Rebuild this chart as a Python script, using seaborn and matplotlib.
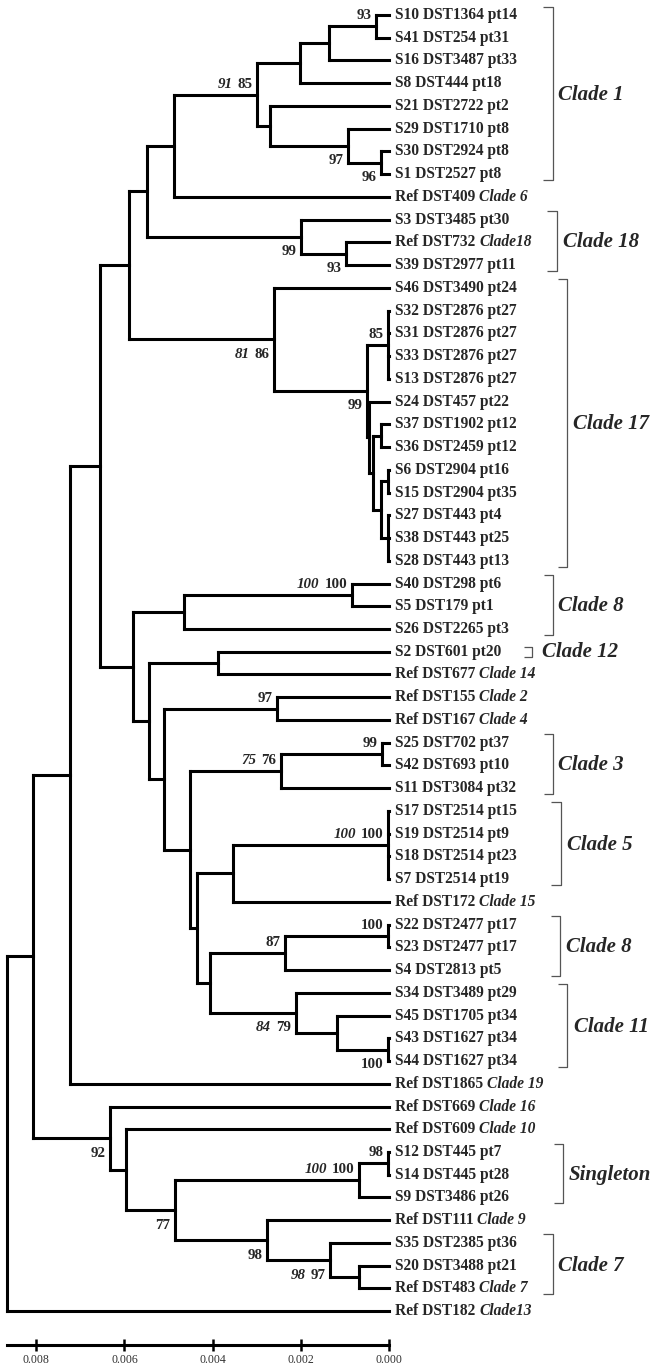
import matplotlib
matplotlib.use("Agg")
import matplotlib.pyplot as plt
import numpy as np
import pandas as pd
import seaborn as sns

# ---------------- data ----------------
LEAF_NAMES = [
    "S10 DST1364 pt14", "S41 DST254 pt31", "S16 DST3487 pt33", "S8 DST444 pt18",
    "S21 DST2722 pt2", "S29 DST1710 pt8", "S30 DST2924 pt8", "S1 DST2527 pt8",
    "Ref DST409", "S3 DST3485 pt30", "Ref DST732", "S39 DST2977 pt11",
    "S46 DST3490 pt24", "S32 DST2876 pt27", "S31 DST2876 pt27", "S33 DST2876 pt27",
    "S13 DST2876 pt27", "S24 DST457 pt22", "S37 DST1902 pt12", "S36 DST2459 pt12",
    "S6 DST2904 pt16", "S15 DST2904 pt35", "S27 DST443 pt4", "S38 DST443 pt25",
    "S28 DST443 pt13", "S40 DST298 pt6", "S5 DST179 pt1", "S26 DST2265 pt3",
    "S2 DST601 pt20", "Ref DST677", "Ref DST155", "Ref DST167",
    "S25 DST702 pt37", "S42 DST693 pt10", "S11 DST3084 pt32", "S17 DST2514 pt15",
    "S19 DST2514 pt9", "S18 DST2514 pt23", "S7 DST2514 pt19", "Ref DST172",
    "S22 DST2477 pt17", "S23 DST2477 pt17", "S4 DST2813 pt5", "S34 DST3489 pt29",
    "S45 DST1705 pt34", "S43 DST1627 pt34", "S44 DST1627 pt34", "Ref DST1865",
    "Ref DST669", "Ref DST609", "S12 DST445 pt7", "S14 DST445 pt28",
    "S9 DST3486 pt26", "Ref DST111", "S35 DST2385 pt36", "S20 DST3488 pt21",
    "Ref DST483", "Ref DST182",
]
LEAF_ITALIC = [
    "", "", "", "", "", "", "", "",
    "Clade 6", "", "Clade18", "",
    "", "", "", "", "", "", "", "", "", "", "", "", "",
    "", "", "",
    "", "Clade 14", "Clade 2", "Clade 4",
    "", "", "", "", "", "", "", "Clade 15",
    "", "", "", "", "", "", "", "Clade 19",
    "Clade 16", "Clade 10", "", "", "", "Clade 9", "", "",
    "Clade 7", "Clade13",
]

# topology (leaf = index into LEAF_NAMES, internal nodes named)
TREE = ("(((((((((((0,1)n376,2)n329,3)n300,(4,(5,(6,7)n381)n348)n270)c1,8)n174,"
        "(9,(10,11)n345)c18)n146,(12,((13,14,15,16)p17,(17,((18,19)d17,"
        "((20,21)f17,(22,23,24)g17)e17)c17b)b17)a17)c17)n129,"
        "(((25,26)n351,27)n184,((28,29)n218,((30,31)n277,(((32,33)n381b,34)c3,"
        "(((35,36,37,38)c5,39)n232,(((40,41)n22,42)n285,(43,(44,(45,46)n43)n337)n295)n210)n197)n190)n164)n148)n133)n100,"
        "47)n70,(48,(49,(((50,51)n12,52)nsing,(53,(54,(55,56)n20)n330)n267)n175)n126)n110)n33,57)root")

# node heights (distance from the tips)
NODE_HEIGHT = {
    "root": 0.008652, "n33": 0.008070, "n70": 0.007232, "n100": 0.006553,
    "n129": 0.005896, "n146": 0.005495, "n174": 0.004877, "c1": 0.002997,
    "n300": 0.002023, "n329": 0.001366, "n376": 0.000301, "n270": 0.002702,
    "n348": 0.000935, "n381": 0.000188, "c18": 0.002000, "n345": 0.000988,
    "c17": 0.002612, "a17": 0.000505, "p17": 0.00002, "b17": 0.000453,
    "c17b": 0.000362, "d17": 0.000195, "e17": 0.000195, "f17": 0.00002,
    "g17": 0.00002, "n133": 0.005805, "n184": 0.004650, "n351": 0.000852,
    "n148": 0.005450, "n218": 0.003880, "n164": 0.005103, "n277": 0.002537,
    "n190": 0.004514, "c3": 0.002460, "n381b": 0.000172, "n197": 0.004356,
    "n232": 0.003547, "c5": 0.00002, "n210": 0.004061, "n285": 0.002362,
    "n22": 0.00002, "n295": 0.002120, "n337": 0.001178, "n43": 0.00002,
    "n110": 0.006326, "n126": 0.005964, "n175": 0.004854, "nsing": 0.000680,
    "n12": 0.00002, "n267": 0.002770, "n330": 0.001343, "n20": 0.000680,
}

# bootstrap support: (italic value, plain value)
SUPPORT = {
    "n376": ("", "93"), "c1": ("91", "85"), "n348": ("", "97"), "n381": ("", "96"),
    "c18": ("", "99"), "n345": ("", "93"), "c17": ("81", "86"), "p17": ("", "85"),
    "a17": ("", "99"), "n351": ("100", "100"), "n277": ("", "97"), "n381b": ("", "99"),
    "c3": ("75", "76"), "c5": ("100", "100"), "n22": ("", "100"), "n285": ("", "87"),
    "n295": ("84", "79"), "n43": ("", "100"), "n110": ("", "92"), "n12": ("", "98"),
    "nsing": ("100", "100"), "n175": ("", "77"), "n267": ("", "98"), "n330": ("98", "97"),
}
SUPPORT_ABOVE = {"n376", "c1", "p17", "n351", "n277", "n381b", "c3", "c5",
                 "n22", "n285", "n12", "nsing"}

# clade groups: (label, first leaf, last leaf)
CLADE_LABELS = ["Clade 1", "Clade 18", "Clade 17", "Clade 8", "Clade 12", "Clade 3",
                "Clade 5", "Clade 8", "Clade 11", "Singleton", "Clade 7"]
CLADE_FIRST = [0, 9, 12, 25, 28, 32, 35, 40, 43, 50, 54]
CLADE_LAST = [7, 11, 24, 27, 28, 34, 38, 42, 46, 52, 56]

SCALE_TICKS = [0.008, 0.006, 0.004, 0.002, 0.000]
SCALE_TICK_LABELS = ["0.008", "0.006", "0.004", "0.002", "0.000"]

# ---------------- layout (pixels) ----------------
W, H = 658, 1369
PXX = 44150.0      # px per substitution
X0 = 389.3         # px of tips
Y0, DY = 15.0, 22.74
BRACKET_X = [552.7, 556.7, 567.3, 553.3, 532.0, 553.3, 560.7, 560.0, 567.3, 563.3, 552.7]
LABEL_X = [558.0, 562.7, 573.3, 558.3, 541.7, 558.3, 566.7, 566.0, 574.0, 568.3, 558.3]


def px2d(px):
    return (X0 - px) / PXX


# ---------------- tree parsing ----------------
def parse(s):
    pos = 0

    def node():
        nonlocal pos
        kids = []
        if s[pos] == '(':
            pos += 1
            kids.append(node())
            while s[pos] == ',':
                pos += 1
                kids.append(node())
            assert s[pos] == ')'
            pos += 1
        start = pos
        while pos < len(s) and s[pos] not in ',)':
            pos += 1
        return {"name": s[start:pos], "kids": kids}

    return node()


tree = parse(TREE)
nodes = {}


def layout(n):
    if not n["kids"]:
        n["x"] = 0.0
        n["y"] = float(int(n["name"]))
    else:
        for k in n["kids"]:
            layout(k)
        n["x"] = NODE_HEIGHT[n["name"]]
        n["y"] = (n["kids"][0]["y"] + n["kids"][-1]["y"]) / 2.0
    nodes[n["name"]] = n


layout(tree)

rows = []
seg = [0]


def segs(n):
    if not n["kids"]:
        return
    ys = [k["y"] for k in n["kids"]]
    rows.append((seg[0], n["x"], min(ys)))
    rows.append((seg[0], n["x"], max(ys)))
    seg[0] += 1
    for k in n["kids"]:
        rows.append((seg[0], n["x"], k["y"]))
        rows.append((seg[0], k["x"], k["y"]))
        seg[0] += 1
        segs(k)


segs(tree)
df = pd.DataFrame(rows, columns=["seg", "x", "y"])

# ---------------- plotting ----------------
sns.set_theme(style="white")
plt.rcParams["font.family"] = ["Liberation Serif", "DejaVu Serif"]

fig = plt.figure(figsize=(W / 100, H / 100), dpi=100)
ax = fig.add_axes([0, 0, 1, 1])
sns.lineplot(data=df, x="x", y="y", units="seg", estimator=None, sort=False,
             color="black", linewidth=2.2, ax=ax, legend=False,
             solid_capstyle="projecting")
ax.set_xlim(X0 / PXX, (X0 - W) / PXX)
ax.set_ylim((H - Y0) / DY, -Y0 / DY)
ax.axis("off")

PT = 0.72  # points per pixel
FS_LEAF = 11.2
for i, (nm, it) in enumerate(zip(LEAF_NAMES, LEAF_ITALIC)):
    t = ax.annotate(nm, xy=(0, i), xytext=(5.5 * PT, 0), textcoords="offset points",
                    ha="left", va="center", fontsize=FS_LEAF, fontweight="bold")
    if it:
        ax.annotate(it, xy=(1, 0.5), xycoords=t, xytext=(2.9, 0),
                    textcoords="offset points", ha="left", va="center",
                    fontsize=FS_LEAF, fontweight="bold", fontstyle="italic")

FS_BS = 10.8
for name, (ital, plain) in SUPPORT.items():
    n = nodes[name]
    dy = 10.5 if name in SUPPORT_ABOVE else -15.0
    t = ax.annotate(plain, xy=(n["x"], n["y"]), xytext=(-4.5 * PT, dy * PT),
                    textcoords="offset points", ha="right", va="center",
                    fontsize=FS_BS, fontweight="bold")
    if ital:
        ax.annotate(ital, xy=(0, 0.5), xycoords=t, xytext=(-3.6, 0),
                    textcoords="offset points", ha="right", va="center",
                    fontsize=FS_BS, fontweight="bold", fontstyle="italic")

# clade brackets
for lab, a, b, bx, lx in zip(CLADE_LABELS, CLADE_FIRST, CLADE_LAST, BRACKET_X, LABEL_X):
    if a == b:
        top, bot, tick = a - 5.0 / DY, b + 5.5 / DY, 8.0
    else:
        top, bot, tick = a - 8.5 / DY, b + 6.0 / DY, 9.5
    xs = [px2d(bx - tick), px2d(bx), px2d(bx), px2d(bx - tick)]
    ys = [top, top, bot, bot]
    ax.plot(xs, ys, color="#555555", lw=0.9, solid_capstyle="butt")
    ax.text(px2d(lx), (a + b) / 2.0, lab, ha="left", va="center",
            fontsize=15, fontweight="bold", fontstyle="italic")

# scale axis
xl = 7.3
ax2 = fig.add_axes([xl / W, 1 - 1345.0 / H, (X0 - xl) / W, 0.0001])
ax2.set_xlim(px2d(xl), 0.0)
ax2.set_ylim(0, 1)
ax2.set_facecolor("none")
for s in ["top", "left", "right"]:
    ax2.spines[s].set_visible(False)
ax2.spines["bottom"].set_linewidth(2.2)
ax2.spines["bottom"].set_color("black")
ax2.set_yticks([])
ax2.set_xticks(SCALE_TICKS)
ax2.set_xticklabels(SCALE_TICK_LABELS)
ax2.tick_params(axis="x", direction="inout", length=8, width=1.8, pad=2.5,
                labelsize=8.6, labelcolor="#333333", color="black", bottom=True)

fig.savefig("out.png", dpi=100)
